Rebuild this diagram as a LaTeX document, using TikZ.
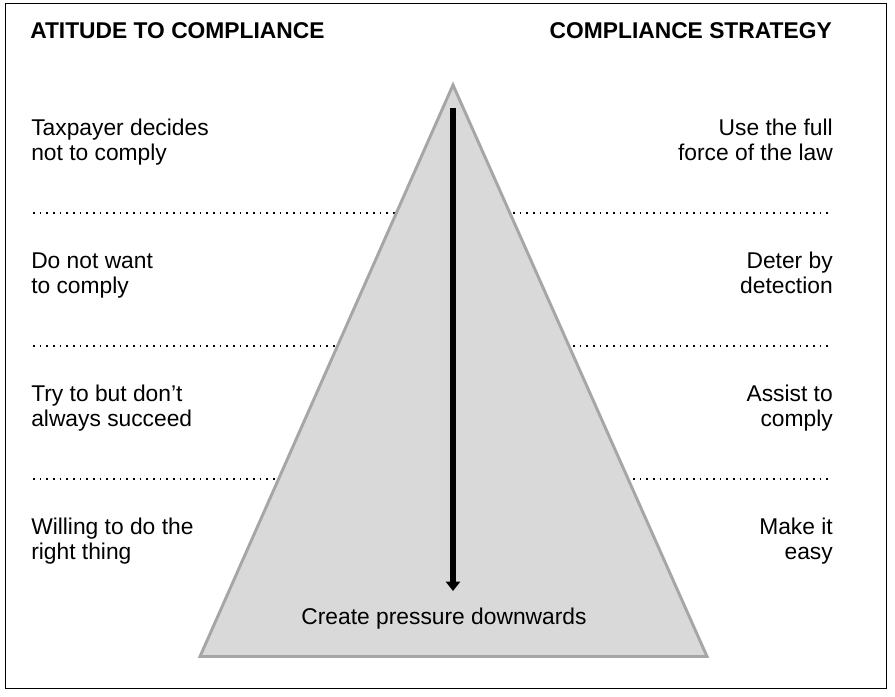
\documentclass[tikz,border=0pt]{standalone}
\usepackage{fontspec}
\setmainfont{Liberation Sans}
\usetikzlibrary{arrows.meta}
\definecolor{triedge}{HTML}{A6A6A6}
\definecolor{trifill}{HTML}{D9D9D9}
\tikzset{
  lt/.style={anchor=base west, inner sep=0pt, font=\fontsize{17.1pt}{18.75pt}\selectfont},
  rt/.style={anchor=base east, inner sep=0pt, font=\fontsize{17.1pt}{18.75pt}\selectfont},
  ctr/.style={anchor=base, inner sep=0pt, font=\fontsize{17.1pt}{18.75pt}\selectfont},
  ttl/.style={inner sep=0pt, font=\fontsize{17.1pt}{18.75pt}\selectfont\bfseries},
  sep/.style={line width=1.35pt, dash pattern=on 1.35pt off 3.65pt},
  tri/.style={draw=triedge, fill=trifill, line width=2.2pt, line join=miter},
  push/.style={line width=3.9pt, -{Triangle[width=10.5pt,length=7pt]}},
}
\begin{document}
\begin{tikzpicture}[x=0.75pt,y=-0.75pt]
\useasboundingbox (0,0) rectangle (895,696);
\draw[line width=1pt] (5.5,3.5) rectangle (886.5,688.5);

% titles
\node[ttl, anchor=base west] (tl) at (30,38) {ATITUDE TO COMPLIANCE};
\node[ttl, anchor=base east] (tr) at (832,38) {COMPLIANCE STRATEGY};

% separators
\coordinate (s1a) at (33,213); \coordinate (s1b) at (832,213);
\coordinate (s2a) at (33,346); \coordinate (s2b) at (832,346);
\coordinate (s3a) at (33,479); \coordinate (s3b) at (832,479);
\draw[sep] (s1a) -- (s1b);
\draw[sep] (s2a) -- (s2b);
\draw[sep] (s3a) -- (s3b);

% triangle
\coordinate (apex) at (453,85);
\coordinate (bl) at (200,656.5);
\coordinate (br) at (707,656.5);
\draw[tri] (apex) -- (br) -- (bl) -- cycle;

% arrow
\coordinate (atop) at (453,108);
\coordinate (abot) at (453,591);
\draw[push] (atop) -- (abot);
\node[ctr] (cp) at (444,624) {Create pressure downwards};

% left column
\node[lt] (l1a) at (31,135) {Taxpayer decides};
\node[lt] (l1b) at (31,160) {not to comply};
\node[lt] (l2a) at (31,268) {Do not want};
\node[lt] (l2b) at (31,293) {to comply};
\node[lt] (l3a) at (31,401) {Try to but don’t};
\node[lt] (l3b) at (31,426) {always succeed};
\node[lt] (l4a) at (31,534) {Willing to do the};
\node[lt] (l4b) at (31,559) {right thing};

% right column
\node[rt] (r1a) at (833,135) {Use the full};
\node[rt] (r1b) at (833,160) {force of the law};
\node[rt] (r2a) at (833,268) {Deter by};
\node[rt] (r2b) at (833,293) {detection};
\node[rt] (r3a) at (833,401) {Assist to};
\node[rt] (r3b) at (833,426) {comply};
\node[rt] (r4a) at (833,534) {Make it};
\node[rt] (r4b) at (833,559) {easy};
\end{tikzpicture}
\end{document}
